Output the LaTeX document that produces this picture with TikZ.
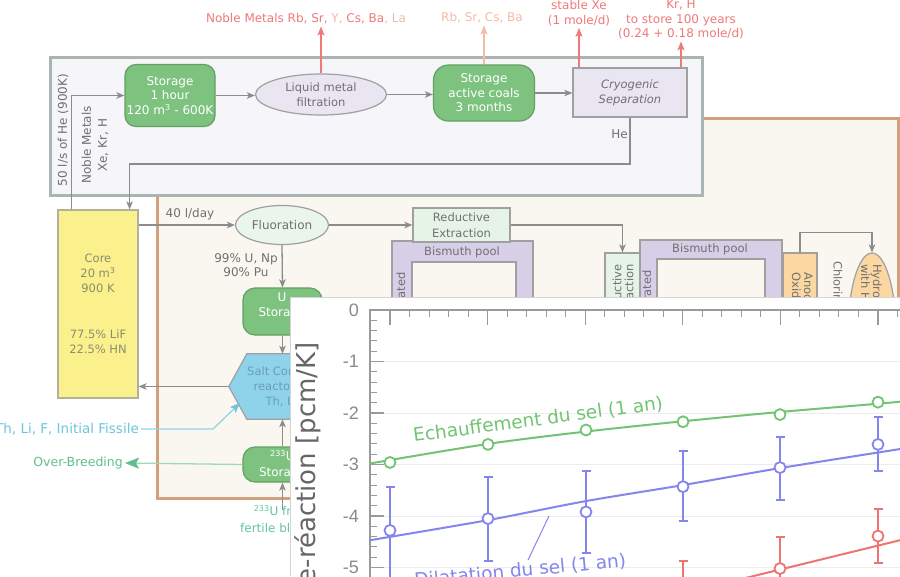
\documentclass[tikz,border=0pt]{standalone}
\usepackage{fontspec}
\setmainfont{DejaVu Sans}
\newfontfamily\tickfont{Liberation Sans}
\newfontfamily\axisfont{DejaVu Sans}
\usetikzlibrary{shapes.geometric,arrows.meta}

\definecolor{linegray}{HTML}{8C8C8C}
\definecolor{boxline}{HTML}{A0A0A0}
\definecolor{txtgray}{HTML}{707070}
\definecolor{boxgreen}{HTML}{7DC37F}
\definecolor{boxgreenline}{HTML}{62A064}
\definecolor{loopline}{HTML}{AAB4B1}
\definecolor{loopfill}{HTML}{F6F5F9}
\definecolor{tanline}{HTML}{D4A07C}
\definecolor{tanfill}{HTML}{FAF7F1}
\definecolor{lavfill}{HTML}{E9E5F1}
\definecolor{poolfill}{HTML}{D7CFE7}
\definecolor{mintfill}{HTML}{E6F4E7}
\definecolor{fluofill}{HTML}{EAF5EC}
\definecolor{corefill}{HTML}{FAF08C}
\definecolor{coreline}{HTML}{B4B09A}
\definecolor{coretext}{HTML}{8C8C70}
\definecolor{hexfill}{HTML}{8FD3EA}
\definecolor{hextxt}{HTML}{6A9DB8}
\definecolor{orfill}{HTML}{FBD7A1}
\definecolor{redtxt}{HTML}{EE7A78}
\definecolor{pinktxt}{HTML}{F4B6B2}
\definecolor{peach}{HTML}{F2BCA6}
\definecolor{tealtxt}{HTML}{62C4A2}
\definecolor{skyblue}{HTML}{6CC6DE}
\definecolor{obgreen}{HTML}{5FBF8C}
\definecolor{plotgreen}{HTML}{72C474}
\definecolor{plotblue}{HTML}{8585EE}
\definecolor{plotred}{HTML}{EE7474}
\definecolor{axisgray}{HTML}{9A9A9A}
\definecolor{gridgray}{HTML}{ECECEC}
\definecolor{ticktxt}{HTML}{8A8A8A}
\definecolor{labelgray}{HTML}{666666}
\definecolor{panelgray}{HTML}{D4D4D4}

\tikzset{
  base/.style={font=\fontsize{12}{14.5}\selectfont, text=txtgray, inner sep=2pt},
  conn/.style={draw=linegray, line width=1.3pt, -{Stealth[length=8pt,width=6.5pt,inset=2pt]}},
  greenbox/.style={rectangle, rounded corners=11pt, draw=boxgreenline, fill=boxgreen,
    line width=1.2pt, text=white, font=\fontsize{12}{14.5}\selectfont, align=center, inner sep=0pt},
  graybox/.style={rectangle, draw=boxline, line width=1.2pt, align=center, inner sep=0pt, text=txtgray},
  oval/.style={ellipse, draw=boxline, line width=1.2pt, align=center, inner sep=0pt, text=txtgray},
  outarrow/.style={line width=1.5pt, -{Stealth[length=9pt,width=7pt,inset=2pt]}},
  poolshape/.style={draw=boxline, fill=poolfill, line width=1.2pt, even odd rule},
  sidetext/.style={font=\fontsize{11.5}{12}\selectfont},
  curvelabel/.style={font=\fontsize{18.5}{20}\selectfont, inner sep=0pt, anchor=base west},
  curve/.style={line width=2pt},
  marker/.style={line width=1.8pt, fill=white},
}

\begin{document}
\begin{tikzpicture}[x=1pt, y=-1pt, every node/.style={base}]
\useasboundingbox (0,0) rectangle (900,576);
\clip (0,0) rectangle (900,576);
\fill[white] (0,0) rectangle (900,576);

% ---------- frames ----------
\draw[tanline, fill=tanfill, line width=3pt] (157,118) rectangle (898,498);
\draw[loopline, fill=loopfill, line width=3pt] (50,57) rectangle (702,195);

% ---------- helium loop ----------
\node[greenbox, minimum width=90pt, minimum height=62pt] (st1) at (170,95.5) {Storage\\1 hour\\120 m\textsuperscript{3} - 600K};
\node[oval, fill=lavfill, minimum width=131pt, minimum height=41pt, font=\fontsize{11.5}{14.5}\selectfont] (filt) at (321,94.5) {Liquid metal\\filtration};
\node[greenbox, rounded corners=15pt, minimum width=101pt, minimum height=56pt] (st2) at (484,93) {Storage\\active coals\\3 months};
\node[graybox, fill=lavfill, minimum width=114pt, minimum height=49pt, font=\fontsize{11.5}{15}\selectfont\itshape] (cryo) at (630,92.5) {Cryogenic\\Separation};

\node (nm) at (306,19) {\textcolor{redtxt}{Noble Metals Rb, Sr,} \textcolor{pinktxt}{Y,} \textcolor{redtxt}{Cs, Ba}\textcolor{pinktxt}{, La}};
\node[text=peach] (rb) at (482,18) {Rb, Sr, Cs, Ba};
\node[text=redtxt, align=center] (xe) at (579,13) {stable Xe\\(1 mole/d)};
\node[text=redtxt, align=center] (kr) at (681,19.5) {Kr, H\\to store 100 years\\(0.24 + 0.18 mole/d)};

\draw[outarrow, draw=redtxt] (filt.north) -- (filt.north |- nm.south);
\draw[outarrow, draw=peach] (st2.north) -- (st2.north |- rb.south);
\draw[outarrow, draw=redtxt] (xe.south |- cryo.north) -- (xe.south);
\draw[outarrow, draw=redtxt] (kr.south |- cryo.north) -- (kr.south);

\node[rotate=90] (hef) at (63,130) {50 l/s of He (900K)};
\node[rotate=90, align=center, font=\fontsize{12}{16}\selectfont] (nmx) at (95,145) {Noble Metals\\Xe, Kr, H};

% ---------- core ----------
\node[draw=coreline, fill=corefill, line width=1.2pt, minimum width=80pt, minimum height=188pt,
      text=coretext, align=center, font=\fontsize{11.5}{15}\selectfont] (core) at (98,304)
      {Core\\20 m\textsuperscript{3}\\900 K\\[31pt]77.5\% LiF\\22.5\% HN};

\draw[conn] ([xshift=14pt]core.north west) |- (st1.west);
\draw[conn] (st1.east) -- (st1.east -| filt.west);
\draw[conn] (filt.east) -- (filt.east -| st2.west);
\draw[conn] (st2.east) -- (st2.east -| cryo.west);
\draw[conn] (cryo.south) -- ++(0,46.5) -| ([xshift=-9pt]core.north east);
\node[anchor=east, inner sep=1pt] (helbl) at (629,134) {He};

% ---------- chemical processing ----------
\draw[poolshape] (392,241) rectangle (533,470) (412,262) rectangle (516,450);
\node[font=\fontsize{11.5}{14}\selectfont] (bp1) at (462,252) {Bismuth pool};
\node[rotate=90, anchor=east, font=\fontsize{11.5}{14}\selectfont] (sep1) at (402,270) {Separated};

\draw[poolshape] (640,240) rectangle (782,470) (657,259) rectangle (765,450);
\node[font=\fontsize{11.5}{14}\selectfont] (bp2) at (710,249) {Bismuth pool};
\node[rotate=90, anchor=east, font=\fontsize{11.5}{14}\selectfont] (sep2) at (648,268) {Separated};

\node[oval, fill=fluofill, minimum width=93pt, minimum height=39pt, font=\fontsize{12}{14}\selectfont] (fluo) at (282,225) {Fluoration};
\node (lday) at (190,214) {40 l/day};
\draw[conn] (core.east |- fluo.west) -- (fluo.west);

\node[graybox, fill=mintfill, minimum width=97pt, minimum height=34pt, font=\fontsize{11.5}{15.5}\selectfont] (re) at (461.5,225) {Reductive\\Extraction};
\draw[conn] (fluo.east) -- (fluo.east -| re.west);

\node[graybox, fill=mintfill, minimum width=35pt, minimum height=150pt] (re2) at (622.5,328) {};
\node[rotate=90, anchor=east, align=right, sidetext] (re2t) at (623,262) {Reductive\\Extraction};
\draw[conn] (re.east) -| (re2.north);

\node[graybox, fill=orfill, minimum width=34pt, minimum height=150pt] (ano) at (800,328) {};
\node[rotate=-90, anchor=west, align=left, sidetext] (anot) at (802.5,270) {Anodic\\Oxidation};
\node[rotate=-90, anchor=west, font=\fontsize{11.5}{14}\selectfont] (chl) at (838,259) {Chlorination};
\node[oval, fill=orfill, minimum width=48pt, minimum height=160pt] (hyd) at (872,333) {};
\node[rotate=-90, anchor=west, align=left, sidetext] (hydt) at (871.5,262) {Hydrofluorination\\with HF};
\draw[conn] (ano.north) -- ++(0,-20) -| (hyd.north);

% uranium line
\node[greenbox, rounded corners=12pt, minimum width=79pt, minimum height=47pt] (ust) at (282.5,311.5) {};
\node[text=white, align=center, font=\fontsize{12}{15.5}\selectfont] (ustt) at (282,306) {U\\Storage};
\node[align=center] (pct) at (246,265) {99\% U, Np\\90\% Pu};
\draw[conn] (fluo.south) -- (ust.north);

\node[minimum width=142pt, minimum height=65pt, inner sep=0pt] (hex) at (300,386.5) {};
\draw[draw=boxline, fill=hexfill, line width=1.2pt]
  (hex.west) -- ([xshift=18pt]hex.north west) -- ([xshift=-18pt]hex.north east) -- (hex.east)
  -- ([xshift=-18pt]hex.south east) -- ([xshift=18pt]hex.south west) -- cycle;
\node[align=center, text=hextxt, font=\fontsize{11.5}{15}\selectfont] (hext) at (296,387) {Salt Composition\\reactor control\\Th, Li, F, U};
\draw[conn] (ust.south) -- (ust.south |- hex.north);
\draw[conn] (hex.west) -- (core.east |- hex.west);

\node[greenbox, rounded corners=12pt, minimum width=79pt, minimum height=35pt, font=\fontsize{12}{15.5}\selectfont] (u233) at (282.5,464.5) {\textsuperscript{233}U\\Storage};
\draw[conn] (u233.north) -- (u233.north |- hex.south);

\node[text=tealtxt, align=center, font=\fontsize{12}{17}\selectfont] (fert) at (282,519) {\textsuperscript{233}U from\\fertile blanket};
\coordinate (fertin) at (282.5,510);
\draw[conn] (fertin) -- (u233.south);

\node[anchor=east, text=skyblue, font=\fontsize{13.5}{15}\selectfont] (thlf) at (141,429) {Th, Li, F, Initial Fissile};
\coordinate (hexin) at (240,403);
\draw[draw=skyblue!75, line width=1.3pt, -{Stealth[length=10pt,width=8pt,inset=2pt,color=skyblue]}]
  (thlf.east) -- ++(72,0) -- (hexin);

\node[anchor=east, text=obgreen, font=\fontsize{12.5}{15}\selectfont] (ob) at (125,463) {Over-Breeding};
\draw[draw=obgreen!60, line width=1.3pt, -{Stealth[length=14pt,width=11pt,inset=3pt,color=obgreen]}]
  (u233.west) -- (ob.east);

% ---------- reactivity coefficient plot ----------
\fill[white] (290,297) rectangle (900,576);
\draw[panelgray, line width=1pt] (290,576) -- (290,297) -- (900,297);

\begin{scope}[shift={(0,310)}, y=51.5pt]
  \foreach \v in {-1,...,-5} \draw[gridgray, line width=1pt] (370,\v) -- (900,\v);
  \draw[axisgray, line width=1.3pt] (370,-5.5) -- (370,0) -- (900,0);
  \foreach \k in {0,...,5} \draw[axisgray, line width=1.2pt] ({390+97.6*\k},0) -- ++(0,-0.29);
  \foreach \k in {0,...,27} \draw[axisgray, line width=1pt] ({370.5+19.52*\k},0) -- ++(0,-0.14);
  \foreach \v in {0,...,-5} \draw[axisgray, line width=1.2pt] (370,\v) -- ++(14,0);
  \foreach \k in {1,...,27} \draw[axisgray, line width=1pt] (370,{-0.2*\k}) -- ++(7,0);
  \foreach \v in {0,...,-5}
    \node[anchor=east, font=\tickfont\fontsize{18}{18}\selectfont, text=ticktxt] at (361,\v) {\v};

  % fitted curves
  \draw[plotgreen, curve] plot[smooth] coordinates
    {(370,-2.98) (488,-2.6) (586,-2.36) (683,-2.16) (780,-1.98) (878,-1.82) (900,-1.78)};
  \draw[plotblue, curve] plot[smooth] coordinates
    {(370,-4.47) (488,-4.08) (586,-3.71) (683,-3.40) (780,-3.07) (900,-2.70)};
  \draw[plotred, curve] (700,-5.42) -- (900,-4.47);

  % error bars
  \foreach \x/\hi/\lo in {390/-3.44/-5.6, 488/-3.25/-4.88, 586/-3.13/-4.71, 683/-2.74/-4.10, 780/-2.46/-3.69, 878/-2.08/-3.12}
    \draw[plotblue, curve] (\x,\hi) -- (\x,\lo) ({\x-4.5},\hi) -- ++(9,0) ({\x-4.5},\lo) -- ++(9,0);
  \foreach \x/\hi/\lo in {683/-4.87/-5.8, 780/-4.40/-5.8, 878/-3.87/-4.92}
    \draw[plotred, curve] (\x,\hi) -- (\x,\lo) ({\x-4.5},\hi) -- ++(9,0) ({\x-4.5},\lo) -- ++(9,0);

  % markers
  \foreach \x/\v in {390/-2.96, 488/-2.61, 586/-2.33, 683/-2.17, 780/-2.03, 878/-1.79}
    \draw[plotgreen, marker] (\x,\v) circle[radius=5.5pt];
  \foreach \x/\v in {390/-4.28, 488/-4.05, 586/-3.92, 683/-3.43, 780/-3.06, 878/-2.61}
    \draw[plotblue, marker] (\x,\v) circle[radius=5.5pt];
  \foreach \x/\v in {780/-5.02, 878/-4.39}
    \draw[plotred, marker] (\x,\v) circle[radius=5.5pt];
\end{scope}

\node[curvelabel, rotate=7.5, text=plotgreen] (lblg) at (414,442) {Echauffement du sel (1 an)};
\node[curvelabel, rotate=5.5, text=plotblue] (lblb) at (415,587) {Dilatation du sel (1 an)};
\coordinate (ptrA) at (549,516);
\coordinate (ptrB) at (528,560);
\draw[plotblue, line width=1pt] (ptrA) -- (ptrB);

\node[rotate=90, anchor=base east, font=\axisfont\fontsize{26}{26}\selectfont, text=labelgray, inner sep=0pt] (ylab) at (315,342) {Contre-réaction [pcm/K]};
\end{tikzpicture}
\end{document}
